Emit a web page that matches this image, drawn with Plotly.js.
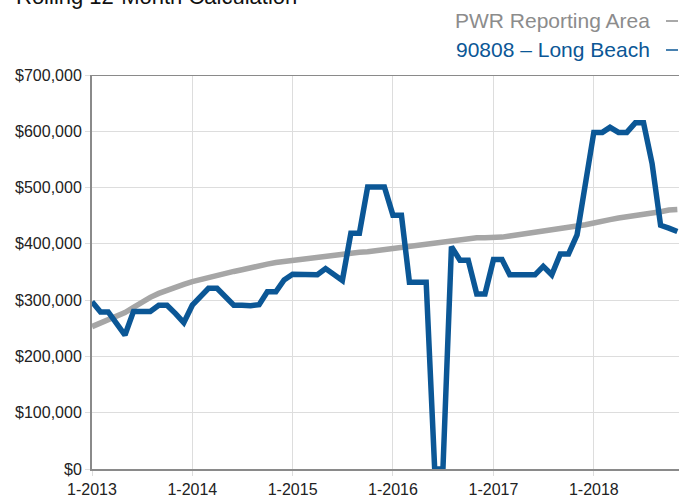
<!DOCTYPE html>
<html>
<head>
<meta charset="utf-8">
<script src="https://cdn.plot.ly/plotly-3.0.1.min.js"></script>
<style>
html,body{margin:0;padding:0;background:#fff;}
#chart{width:679px;height:497px;}
</style>
</head>
<body>
<div id="chart"></div>
<script>
var months = [
"2013-01","2013-02","2013-03","2013-04","2013-05","2013-06","2013-07","2013-08","2013-09","2013-10","2013-11","2013-12",
"2014-01","2014-02","2014-03","2014-04","2014-05","2014-06","2014-07","2014-08","2014-09","2014-10","2014-11","2014-12",
"2015-01","2015-02","2015-03","2015-04","2015-05","2015-06","2015-07","2015-08","2015-09","2015-10","2015-11","2015-12",
"2016-01","2016-02","2016-03","2016-04","2016-05","2016-06","2016-07","2016-08","2016-09","2016-10","2016-11","2016-12",
"2017-01","2017-02","2017-03","2017-04","2017-05","2017-06","2017-07","2017-08","2017-09","2017-10","2017-11","2017-12",
"2018-01","2018-02","2018-03","2018-04","2018-05","2018-06","2018-07","2018-08","2018-09","2018-10","2018-11"
];

var pwrReportingArea = [
253000,259000,265000,271000,278000,287000,297000,305000,312000,318000,323000,328000,
333000,337000,341000,344000,348000,351000,354000,358000,361000,364000,367000,369000,
370000,372000,375000,377000,378000,380000,382000,383000,385000,386000,388000,390000,
391000,392000,394000,397000,399000,400000,402000,405000,408000,410000,411000,411000,
411000,412000,414000,416000,419000,421000,423000,425000,427000,429000,431000,434000,
437000,439000,443000,446000,448000,450000,451000,454000,457000,460000,461000
];

var longBeach90808 = [
297000,279000,279000,258000,238000,280000,280000,280000,291000,291000,276000,260000,
291000,306000,321000,321000,305000,291000,291000,290000,292000,315000,315000,336000,
346000,345000,345000,345000,356000,346000,335000,419000,419000,501000,501000,501000,
451000,451000,332000,332000,332000,0,0,395000,371000,371000,311000,311000,
372000,372000,345000,345000,345000,345000,360000,345000,382000,382000,416000,500000,
598000,598000,607000,598000,598000,615000,615000,543000,433000,428000,422000
];

var seriesNames = ["PWR Reporting Area", "90808 \u2013 Long Beach"];
var chartTitle = "Rolling 12-Month Calculation";

var grayColor = "#a6a6a6";
var blueColor = "#0b5796";

var traces = [
  {x: months, y: pwrReportingArea, type: "scatter", mode: "lines", name: seriesNames[0],
   line: {color: grayColor, width: 5.5}, hoverinfo: "skip"},
  {x: months, y: longBeach90808, type: "scatter", mode: "lines", name: seriesNames[1],
   line: {color: blueColor, width: 5.5}, hoverinfo: "skip"}
];

var PL = 92, PW = 587, PT = 75, PH = 394;
function px2x(p){ return (p - PL) / PW; }
function py2y(p){ return 1 + (PT - p) / PH; }

var layout = {
  width: 679, height: 497,
  margin: {l: PL, r: 0, t: PT, b: 28, pad: 0},
  paper_bgcolor: "#ffffff", plot_bgcolor: "#ffffff",
  showlegend: false,
  font: {family: "Liberation Sans, Arial, sans-serif", size: 16, color: "#222"},
  xaxis: {
    type: "date",
    range: ["2013-01-01", "2018-11-07"],
    tick0: "2013-01-01", dtick: "M12", tickformat: "%-m-%Y",
    showgrid: true, gridcolor: "#dddddd", gridwidth: 1,
    showline: true, linecolor: "#8a8a8a", linewidth: 2,
    ticks: "outside", ticklen: 5, tickcolor: "#dddddd", tickwidth: 1,
    zeroline: false,
    tickfont: {size: 16, color: "#222"}
  },
  yaxis: {
    range: [0, 700000], dtick: 100000, tick0: 0,
    tickprefix: "$", tickformat: ",.0f",
    showgrid: true, gridcolor: "#dddddd", gridwidth: 1,
    showline: true, linecolor: "#8a8a8a", linewidth: 2,
    ticks: "outside", ticklen: 5, tickcolor: "#dddddd", tickwidth: 1,
    zeroline: false,
    tickfont: {size: 16, color: "#222"}
  },
  shapes: [
    {type: "line", xref: "paper", yref: "y", x0: 0, x1: 1, y0: 700000, y1: 700000,
     line: {color: "#8a8a8a", width: 2}},
    {type: "line", xref: "paper", yref: "paper", x0: px2x(666), x1: px2x(678), y0: py2y(21), y1: py2y(21),
     line: {color: "#8c8c8c", width: 1.5}},
    {type: "line", xref: "paper", yref: "paper", x0: px2x(666), x1: px2x(678), y0: py2y(50), y1: py2y(50),
     line: {color: blueColor, width: 1.5}}
  ],
  annotations: [
    {text: chartTitle, xref: "paper", yref: "paper", x: px2x(14), y: 1.162,
     xanchor: "left", yanchor: "bottom", showarrow: false,
     font: {size: 22, color: "#111"}},
    {text: seriesNames[0], xref: "paper", yref: "paper", x: px2x(652), y: py2y(20),
     xanchor: "right", yanchor: "middle", showarrow: false,
     font: {size: 21, color: "#8c8c8c"}},
    {text: seriesNames[1], xref: "paper", yref: "paper", x: px2x(652), y: py2y(50),
     xanchor: "right", yanchor: "middle", showarrow: false,
     font: {size: 21, color: blueColor}}
  ]
};

Plotly.newPlot("chart", traces, layout, {displayModeBar: false, staticPlot: true});
</script>
</body>
</html>
